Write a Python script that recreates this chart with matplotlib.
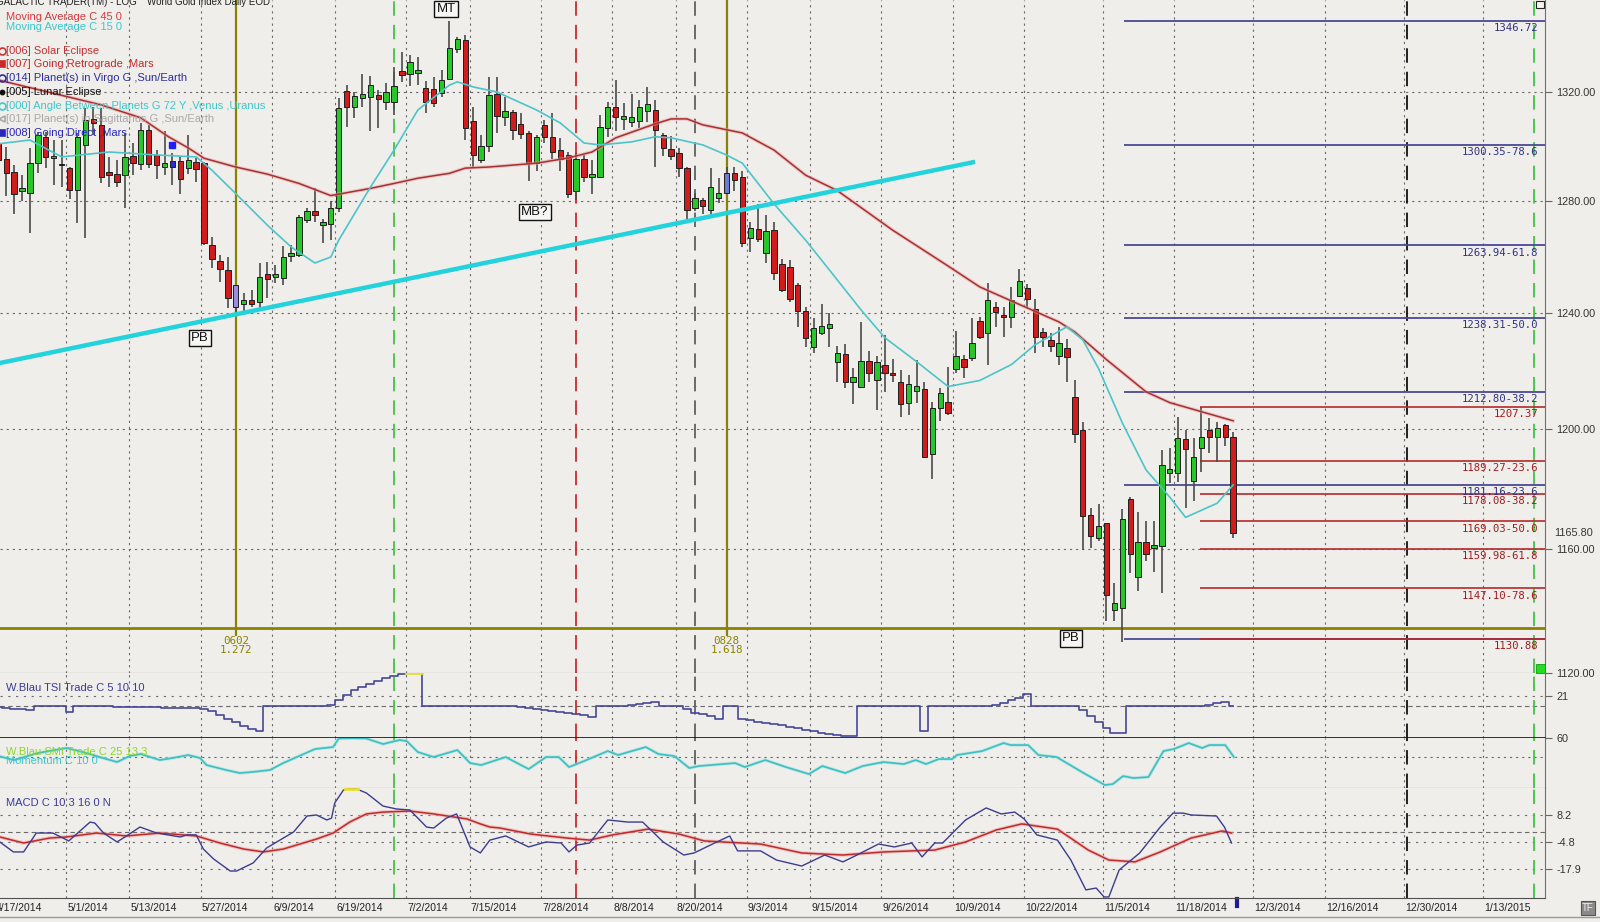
import numpy as np
import matplotlib
matplotlib.use("Agg")
import matplotlib.pyplot as plt
from matplotlib.transforms import blended_transform_factory
from matplotlib.ticker import NullLocator
from matplotlib.patches import Rectangle

# ---------------- data ----------------
date_labels = ["4/17/2014", "5/1/2014", "5/13/2014", "5/27/2014", "6/9/2014", "6/19/2014",
               "7/2/2014", "7/15/2014", "7/28/2014", "8/8/2014", "8/20/2014", "9/3/2014",
               "9/15/2014", "9/26/2014", "10/9/2014", "10/22/2014", "11/5/2014", "11/18/2014",
               "12/3/2014", "12/16/2014", "12/30/2014", "1/13/2015"]
date_days = [0, 9, 17, 26, 35, 43, 52, 60, 69, 78, 86, 95, 103, 112, 121, 130, 140, 149,
             159, 168, 178, 188]

opens = [1301.0, 1295.2, 1290.4, 1283.4, 1283.0, 1293.7, 1303.4, 1295.5, 1293.5, 1291.9,
         1284.1, 1300.4, 1310.0, 1307.8, 1290.4, 1289.7, 1289.3, 1296.3, 1293.4, 1305.9,
         1296.7, 1292.3, 1292.3, 1294.5, 1291.9, 1294.1, 1293.7, 1264.1, 1258.4, 1255.2,
         1242.1, 1243.1, 1244.6, 1243.9, 1253.8, 1252.7, 1252.4, 1260.2, 1260.5, 1272.9,
         1276.5, 1271.1, 1271.5, 1277.5, 1320.4, 1314.5, 1317.8, 1318.2, 1318.9, 1316.3,
         1316.3, 1327.9, 1326.8, 1327.2, 1321.5, 1321.1, 1319.6, 1324.9, 1336.2, 1339.6,
         1309.3, 1294.8, 1300.0, 1319.3, 1310.8, 1312.6, 1308.2, 1304.8, 1293.7, 1307.8,
         1303.4, 1298.5, 1296.7, 1283.4, 1295.2, 1288.6, 1288.6, 1306.7, 1314.5, 1310.0,
         1308.9, 1309.3, 1313.0, 1313.3, 1304.1, 1298.9, 1297.4, 1291.9, 1277.5, 1280.4,
         1276.8, 1281.1, 1283.0, 1290.0, 1288.6, 1266.5, 1269.7, 1261.2, 1269.4, 1257.3,
         1256.3, 1249.9, 1240.7, 1228.3, 1233.1, 1234.8, 1222.8, 1225.9, 1216.2, 1214.5,
         1223.4, 1216.9, 1222.1, 1219.3, 1215.9, 1209.0, 1213.1, 1213.8, 1191.6, 1207.2,
         1209.3, 1220.7, 1224.1, 1224.5, 1237.2, 1233.1, 1242.1, 1239.3, 1238.6, 1246.0,
         1248.8, 1241.4, 1233.4, 1230.7, 1225.2, 1227.9, 1211.0, 1199.7, 1171.1, 1163.7,
         1168.4, 1140.2, 1140.8, 1176.4, 1150.7, 1162.4, 1160.3, 1161.0, 1185.2, 1185.2,
         1196.6, 1182.5, 1193.6, 1199.7, 1197.3, 1201.4, 1197.3]
highs = [1304.1, 1299.7, 1293.0, 1289.3, 1299.3, 1305.2, 1305.2, 1302.2, 1302.2, 1292.3,
         1304.8, 1314.1, 1314.5, 1314.1, 1296.0, 1294.8, 1304.8, 1301.1, 1308.5, 1307.8,
         1298.5, 1305.6, 1297.4, 1296.0, 1304.1, 1295.6, 1294.1, 1266.9, 1260.5, 1259.8,
         1249.9, 1247.1, 1248.1, 1257.7, 1258.1, 1257.0, 1263.7, 1264.1, 1274.7, 1277.5,
         1284.5, 1273.3, 1280.0, 1317.8, 1322.6, 1320.0, 1326.8, 1326.0, 1320.8, 1323.4,
         1329.4, 1335.1, 1334.0, 1333.2, 1324.1, 1325.7, 1328.3, 1346.8, 1340.7, 1341.5,
         1314.5, 1304.1, 1325.7, 1325.7, 1318.2, 1313.3, 1312.2, 1305.6, 1304.1, 1309.6,
         1312.2, 1303.0, 1297.8, 1297.4, 1296.7, 1294.8, 1311.5, 1316.3, 1324.5, 1315.9,
         1319.3, 1317.0, 1321.9, 1317.0, 1304.8, 1303.7, 1299.3, 1292.3, 1283.0, 1281.1,
         1291.9, 1288.2, 1292.3, 1292.3, 1290.8, 1272.2, 1278.9, 1274.7, 1272.2, 1259.1,
         1258.8, 1250.6, 1242.1, 1238.3, 1243.2, 1240.0, 1228.6, 1229.3, 1221.0, 1236.9,
         1226.9, 1225.2, 1232.4, 1224.1, 1220.3, 1218.6, 1223.8, 1215.9, 1209.3, 1214.1,
         1221.4, 1233.8, 1225.5, 1238.3, 1238.6, 1250.6, 1243.9, 1242.1, 1249.2, 1255.6,
         1250.2, 1244.9, 1234.8, 1233.1, 1235.2, 1231.0, 1216.6, 1202.4, 1173.5, 1174.8,
         1168.4, 1148.8, 1173.1, 1177.1, 1172.1, 1169.1, 1169.1, 1192.9, 1193.6, 1204.1,
         1199.7, 1197.0, 1207.6, 1203.8, 1202.4, 1201.7, 1199.0]
lows = [1289.3, 1281.9, 1275.4, 1280.0, 1268.3, 1290.0, 1291.9, 1285.6, 1284.9, 1280.8,
        1271.9, 1266.5, 1304.1, 1286.3, 1284.9, 1284.9, 1277.5, 1289.3, 1291.1, 1291.9,
        1287.8, 1289.3, 1285.6, 1282.6, 1289.7, 1286.7, 1264.1, 1255.9, 1251.0, 1241.8,
        1239.3, 1240.0, 1242.1, 1241.1, 1245.3, 1250.6, 1249.9, 1258.1, 1259.8, 1271.9,
        1272.2, 1265.0, 1265.8, 1276.1, 1307.0, 1310.4, 1314.5, 1305.6, 1306.7, 1313.3,
        1311.5, 1323.8, 1322.3, 1322.6, 1312.2, 1314.5, 1318.2, 1324.5, 1334.7, 1302.2,
        1292.3, 1293.7, 1297.8, 1304.8, 1307.4, 1302.2, 1302.6, 1287.1, 1290.8, 1301.1,
        1295.2, 1290.8, 1281.1, 1280.4, 1286.7, 1282.6, 1288.2, 1303.4, 1305.6, 1305.9,
        1307.0, 1306.7, 1308.9, 1292.3, 1296.3, 1294.8, 1288.6, 1273.3, 1276.5, 1275.4,
        1275.4, 1279.3, 1282.3, 1283.7, 1263.4, 1261.6, 1265.1, 1257.7, 1251.7, 1247.4,
        1243.9, 1235.2, 1228.3, 1226.2, 1232.4, 1228.3, 1215.9, 1214.1, 1208.6, 1214.5,
        1215.9, 1206.6, 1212.7, 1215.9, 1204.1, 1204.8, 1209.0, 1190.3, 1183.2, 1202.8,
        1204.8, 1219.3, 1217.6, 1223.4, 1231.0, 1222.1, 1235.2, 1231.7, 1234.8, 1245.6,
        1241.8, 1226.2, 1228.3, 1226.6, 1222.1, 1215.9, 1195.3, 1159.7, 1160.3, 1162.7,
        1136.6, 1136.6, 1130.0, 1152.0, 1146.2, 1156.2, 1152.3, 1145.6, 1181.9, 1182.2,
        1173.5, 1175.8, 1185.6, 1191.9, 1188.9, 1194.3, 1163.7]
closes = [1295.0, 1290.0, 1282.6, 1284.5, 1293.7, 1304.1, 1296.0, 1296.5, 1293.0, 1284.1,
          1303.4, 1309.6, 1308.5, 1288.6, 1289.3, 1286.7, 1296.0, 1293.7, 1305.9, 1293.4,
          1293.0, 1293.7, 1294.5, 1287.8, 1294.8, 1291.5, 1264.8, 1259.1, 1255.6, 1245.3,
          1249.9, 1244.6, 1243.1, 1252.7, 1252.0, 1253.8, 1259.8, 1261.2, 1274.0, 1276.5,
          1274.7, 1272.2, 1277.5, 1314.1, 1314.5, 1318.5, 1319.3, 1322.6, 1317.4, 1320.0,
          1322.3, 1326.4, 1331.3, 1328.3, 1316.3, 1315.9, 1324.5, 1336.6, 1340.0, 1306.7,
          1296.7, 1300.0, 1318.9, 1311.1, 1313.0, 1305.9, 1304.5, 1293.7, 1303.4, 1303.4,
          1297.8, 1295.2, 1282.3, 1295.2, 1288.6, 1289.7, 1307.0, 1314.5, 1310.8, 1311.1,
          1310.8, 1314.5, 1315.6, 1305.9, 1299.3, 1296.3, 1291.9, 1276.8, 1281.1, 1278.2,
          1284.9, 1283.0, 1290.0, 1287.4, 1264.8, 1270.1, 1266.2, 1269.0, 1254.2, 1248.1,
          1244.9, 1240.7, 1231.4, 1234.8, 1235.5, 1236.2, 1226.2, 1216.2, 1217.9, 1223.4,
          1219.3, 1222.8, 1219.3, 1218.6, 1208.6, 1215.5, 1214.8, 1190.6, 1207.2, 1212.4,
          1205.5, 1225.2, 1221.4, 1229.7, 1231.7, 1244.6, 1240.4, 1238.6, 1244.6, 1251.3,
          1244.9, 1231.7, 1231.7, 1228.6, 1229.7, 1224.8, 1198.3, 1170.8, 1164.4, 1167.4,
          1145.0, 1142.4, 1169.7, 1158.4, 1162.4, 1158.4, 1161.3, 1187.9, 1186.6, 1197.0,
          1193.3, 1190.6, 1197.3, 1197.3, 1200.3, 1197.3, 1165.1]
special_colors = {22: '#2b2bd8', 30: '#9a8ce0', 92: '#6a7ad0'}

ma45_x = [0, 13, 18, 21.5, 24, 26, 30, 34, 38, 42, 47, 50, 53, 57, 59, 62, 68, 72, 75, 78,
          83, 85, 87, 89, 94, 98, 102, 106, 113, 120, 124, 130, 134, 136, 140, 145, 148, 152, 156]
ma45_v = [1324.5, 1315.2, 1310.4, 1303.4, 1299.3, 1295.5, 1292.3, 1289.7, 1286.3, 1281.9,
          1284.5, 1286.3, 1288.2, 1290.0, 1291.9, 1292.3, 1293.7, 1295.6, 1297.8, 1303.0,
          1308.2, 1310.0, 1310.0, 1307.8, 1304.8, 1298.5, 1289.3, 1283.7, 1269.4, 1256.6,
          1249.2, 1241.8, 1236.9, 1233.4, 1223.8, 1212.7, 1209.0, 1205.9, 1202.8]
ma15_x = [0, 4, 8, 14, 20, 25, 27, 30, 34, 37, 40, 42, 43, 47, 50, 53, 57, 58, 60, 63, 68, 71,
          74, 76, 80, 83, 85, 89, 92, 94, 98, 102, 105, 109, 112, 116, 120, 124, 128, 131, 135,
          137, 139, 142, 145, 148, 150, 154, 156]
ma15_v = [1300.8, 1302.2, 1296.0, 1297.8, 1296.7, 1296.0, 1291.1, 1282.6, 1271.2, 1263.4,
          1257.7, 1259.8, 1265.8, 1284.9, 1298.5, 1313.3, 1322.6, 1323.8, 1321.9, 1320.0,
          1313.3, 1308.5, 1301.1, 1300.4, 1301.5, 1303.4, 1303.0, 1300.4, 1296.7, 1293.7,
          1278.9, 1265.8, 1255.2, 1241.1, 1231.4, 1223.1, 1214.5, 1216.6, 1222.1, 1229.0,
          1235.2, 1230.7, 1220.7, 1202.1, 1186.2, 1177.1, 1170.4, 1175.1, 1181.2]

trend_x = [0.0, 123.4]
trend_v = [1222.5, 1294.2]

fib_blue_levels = [1346.72, 1300.35, 1263.94, 1238.31, 1212.80, 1181.16, 1130.88]
fib_blue_labels = ["1346.72", "1300.35-78.6", "1263.94-61.8", "1238.31-50.0",
                   "1212.80-38.2", "1181.16-23.6", ""]
fib_red_levels = [1207.37, 1189.27, 1178.08, 1169.03, 1159.98, 1147.10, 1130.88]
fib_red_labels = ["1207.37", "1189.27-23.6", "1178.08-38.2", "1169.03-50.0",
                  "1159.98-61.8", "1147.10-78.6", "1130.88"]

olive_level = 1134.3
olive_days = [30, 92]
olive_text = [("0602", "1.272"), ("0828", "1.618")]

event_days = [50, 73, 88, 178, 194]
event_colors = ['#3cc83c', '#cc2a2a', '#606060', '#111111', '#3cc83c']

tsi = [-2, -3, -5, -6, -8, 0, 0, 0, 0, -11, 0, 0, 0, 0, 0, -2, -2, -2, -2, -2, -2,
       -3, -3, -3, -3, -3, -5, -10, -17, -25, -33, -40, -46, -50, 0, 0, 0, 0, 0, 0, 0, 0,
       4, 14, 24, 33, 41, 47, 53, 58, 62, 66, 69, 69, 0, 0, 0, 0, 0, 0, 0, 0, 0, 0, 0, 0,
       -2, -4, -6, -8, -10, -12, -14, -16, -18, -21, 0, 0, 0, 0, 2, 5, 7, 10, 0, 0, 0,
       -6, -13, -16, -19, -25, 0, 0, -25, -28, -31, -34, -36, -39, -42, -45, -48, -51, -54,
       -57, -59, -60, -61, 0, 0, 0, 0, 0, 0, 0, 0, -50, 0, 0, 0, 0, 0, 0, 0, 0,
       4, 8, 13, 18, 25, 0, 0, 0, 0, 0, 0, -8, -20, -32, -45, -55, -55,
       0, 0, 0, 0, 0, 0, 0, 0, 0, 0, 3, 8, 10, 0]

smi_x = [0, 2, 5, 8.6, 10.7, 12.8, 15, 16.6, 18, 20.4, 22, 24, 25.5, 26.3, 28.8, 30.5, 32,
         34.3, 36, 38, 40, 42.3, 43, 44.8, 46.5, 48.6, 50.7, 51.6, 53, 55, 58, 59.6, 61, 64.1,
         67, 69.2, 70.8, 72.1, 73.7, 77, 78.3, 81.8, 83.4, 85.4, 87.3, 88.5, 93.1, 94.3, 96.9,
         99.5, 102.4, 104.1, 107, 109.2, 111.8, 114.4, 115.9, 117.2, 118.8, 120.5, 121.1,
         124.3, 127, 127.9, 130.1, 131.4, 133.7, 136.9, 139.8, 140.8, 142.1, 143.4, 145.3,
         147.2, 148.5, 150.4, 152.1, 153, 155, 156.1]
smi_v = [22.1, 13.7, 28.4, 38.9, 30.5, 20.0, 9.5, 22.1, 26.3, 13.7, 17.9, 24.2, 17.9, 3.2,
         -7.3, -13.6, -11.5, -7.3, 7.4, 22.1, 36.8, 41.0, 59.0, 59.5, 59.0, 47.3, 55.7, 53.6,
         30.5, 20.0, 34.7, 7.4, 3.2, 20.0, -5.2, 20.0, 20.0, -1.0, 9.5, 32.6, 24.2, 41.0,
         26.3, 22.1, -3.1, 1.1, 7.4, -1.0, 13.7, -1.0, -15.7, 1.1, -13.6, 1.1, 9.5, 5.3,
         13.7, 5.3, 15.8, 15.8, 24.2, 32.6, 49.4, 45.2, 45.2, 24.2, 20.0, -11.5, -38.8,
         -36.7, -19.9, -24.1, -22.0, 32.6, 36.8, 49.4, 38.9, 45.2, 45.2, 20.0]

macd_x = [0.2, 1.9, 3.2, 4.8, 6.9, 8.9, 11.6, 12.2, 13.3, 15, 16.2, 17.9, 20, 23, 23.8, 25,
          25.9, 27.2, 29.3, 30.1, 32.2, 33.9, 37.3, 39, 40.2, 41.5, 42.1, 42.5, 43.6, 44.4,
          45.1, 46.5, 48.6, 50.3, 52, 54.1, 55, 56.6, 57.9, 59.6, 60.9, 62.1, 64.1, 67, 69.2,
          71.1, 72.1, 73.1, 74.7, 77, 79.5, 81.4, 84, 86.6, 87.9, 90.5, 92.4, 93.4, 96.3,
          98.3, 101.5, 104.4, 106.7, 108, 111.2, 113.2, 115.4, 116.7, 118.3, 119.3, 122.2,
          124.8, 126.7, 128.4, 129.6, 131.2, 133.8, 135.5, 137.4, 138.7, 139.7, 140.3, 141.6,
          144.2, 146.8, 148.4, 149.7, 150.7, 153.9, 154.9, 155.8]
macd_v = [-4.8, -9.6, -9.6, -0.5, -0.5, -4.3, 4.8, 4.3, -0.5, -4.8, -1.9, 2.4, -0.5, -2.4,
          -1.4, -1.4, -8.2, -13.0, -18.8, -18.8, -14.9, -7.7, 0.0, 7.7, 8.2, 5.8, 6.7, 14.0,
          20.2, 21.0, 21.0, 18.8, 12.5, 11.1, 10.6, 2.4, 1.9, 6.7, 8.7, -7.2, -10.1, -3.9,
          -1.9, -7.2, -4.8, -5.3, -9.6, -6.3, -5.3, 5.8, 4.8, 4.8, -4.8, -11.1, -10.1, -5.3,
          -1.9, -9.1, -9.1, -13.5, -16.4, -11.1, -14.4, -12.0, -5.8, -7.2, -5.3, -12.0, -5.3,
          -5.3, 5.8, 11.6, 8.7, 9.6, 6.3, -1.4, -3.9, -13.5, -27.9, -27.0, -31.3, -31.3,
          -18.3, -10.1, 2.4, 9.1, 9.1, 8.2, 7.7, 2.4, -5.3]
sig_x = [0.2, 3.2, 6.5, 8.6, 12.4, 16.2, 20.4, 25, 28, 31, 33.5, 36, 40.2, 42.3, 44.4, 46.5,
         48.6, 52, 55, 59.2, 60.9, 62.1, 63.4, 67.3, 71.8, 74.7, 77.6, 82.1, 86, 89.2, 96.3,
         101.5, 106.7, 111.9, 118.3, 122.2, 126.1, 129.3, 133.8, 137.7, 140.3, 143.6, 146.8,
         150.7, 154.6, 155.8]
sig_v = [-2.4, -5.3, -2.9, -2.4, -0.5, -1.9, -0.5, -1.9, -5.3, -8.2, -9.6, -8.2, -3.4, -0.5,
         4.8, 8.7, 9.6, 10.1, 8.7, 6.3, 3.9, 2.4, 1.9, -1.0, -2.9, -3.9, -1.4, 1.4, -1.0, -4.3,
         -5.8, -10.1, -11.1, -9.6, -8.7, -4.8, 1.0, 3.9, 1.4, -8.7, -13.5, -14.4, -9.6, -2.9,
         0.5, -0.5]

price_ticks = [1120, 1160, 1200, 1240, 1280, 1320]
macd_ticks = [8.2, -4.8, -17.9]

# ---------------- figure ----------------
W, H = 1600, 922
BG = '#efeeeb'
plt.rcParams['font.family'] = ['Liberation Sans', 'DejaVu Sans']
fig = plt.figure(figsize=(16, 9.22), dpi=100, facecolor=BG)

RIGHT = 1545


def px_axes(top, bottom):
    a = fig.add_axes([0, 1 - bottom / H, RIGHT / W, (bottom - top) / H])
    a.set_facecolor(BG)
    a.set_xlim(0.215, 195.4)
    for s in ['left', 'top']:
        a.spines[s].set_visible(False)
    a.spines['right'].set_color('#707070')
    a.spines['bottom'].set_color('#505050')
    a.set_xticks([])
    a.yaxis.tick_right()
    a.tick_params(axis='y', which='both', length=5, color='#666666', labelsize=7.8,
                  labelcolor='#333333', pad=3, direction='out')
    return a


ax = px_axes(0, 673)
ax_tsi = px_axes(673, 738)
ax_smi = px_axes(738, 788)
ax_macd = px_axes(788, 898)
ax_tsi.spines['bottom'].set_color('#111111')
ax_tsi.spines['bottom'].set_linewidth(1.2)

grid_pos = [d - 0.442 for d in date_days]
grid_ls = (0, (2, 3.5))
for a in (ax, ax_tsi, ax_smi, ax_macd):
    for p in grid_pos:
        a.axvline(p, color='#6a6a6a', lw=0.8, ls=grid_ls, zorder=1)
    for d, c in zip(event_days, event_colors):
        a.axvline(d, color=c, lw=1.3, ls=(0, (8, 5)), zorder=2)

# ---------- main price panel ----------
ax.set_yscale('log')
ax.set_ylim(1120, 1354.8)
ax.yaxis.set_minor_locator(NullLocator())
ax.set_yticks(price_ticks)
ax.set_yticklabels([f"{v:.2f}" for v in price_ticks])
for lev in price_ticks[1:]:
    ax.axhline(lev, color='#6a6a6a', lw=0.8, ls=grid_ls, zorder=1)

# fibonacci lines
ax.hlines(fib_blue_levels, 142.2, 195.4, color='#4a4a96', lw=1.3, zorder=2)
ax.hlines(fib_red_levels, 151.8, 195.4, color='#b52a2a', lw=1.2, zorder=2)
for lev, lab in zip(fib_blue_levels, fib_blue_labels):
    if lab:
        ax.annotate(lab, xy=(194.5, lev), xytext=(0, -1.5), textcoords='offset points',
                    ha='right', va='top', fontsize=7.7, family='DejaVu Sans Mono',
                    color='#30308a', zorder=7)
for lev, lab in zip(fib_red_levels, fib_red_labels):
    ax.annotate(lab, xy=(194.5, lev), xytext=(0, -1.5), textcoords='offset points',
                ha='right', va='top', fontsize=7.7, family='DejaVu Sans Mono',
                color='#a51c1c', zorder=7)

# olive time/price lines
ax.axhline(olive_level, color='#8a8200', lw=2.0, zorder=3)
for d, (t1, t2) in zip(olive_days, olive_text):
    ax.vlines(d, 1131.8, 1354.8, color='#8a8200', lw=1.6, zorder=3)
    ax.text(d, 1130.2, t1, ha='center', va='center', fontsize=7.8,
            family='DejaVu Sans Mono', color='#8a8200')
    ax.text(d, 1127.2, t2, ha='center', va='center', fontsize=7.8,
            family='DejaVu Sans Mono', color='#8a8200')

# candles
idx = np.arange(len(opens))
o = np.array(opens)
c = np.array(closes)
cols = []
for i in idx:
    if i in special_colors:
        cols.append(special_colors[i])
    elif c[i] >= o[i]:
        cols.append('#27c727')
    else:
        cols.append('#d01c1c')
ax.vlines(idx, lows, highs, color='#4a4a4a', lw=1.2, zorder=4)
bottoms = np.minimum(o, c)
heights = np.maximum(np.abs(c - o), 0.35)
ax.bar(idx, heights, bottom=bottoms, width=0.68, color=cols, edgecolor='#1e1e1e',
       linewidth=0.7, zorder=5)

# moving averages and trend line
ax.plot(ma45_x, ma45_v, color='#e8a0a0', lw=2.6, alpha=0.5, zorder=5.5)
ax.plot(ma45_x, ma45_v, color='#a83030', lw=1.1, zorder=6)
ax.plot(ma15_x, ma15_v, color='#4cc4c8', lw=1.2, zorder=6)
ax.plot(trend_x, trend_v, color='#22d3dc', lw=3.2, solid_capstyle='butt', zorder=6)

# astro marker
ax.plot(22, 1300.3, 's', color='#1e1eff', ms=4.5, zorder=7)

# boxed annotations
box = dict(boxstyle='square,pad=0.18', fc='#f6f6f4', ec='#111111', lw=1.0)
for x_, y_, t in [(25.5, 1231.3, 'PB'), (56.6, 1351.4, 'MT'), (67.8, 1276.0, 'MB?'),
                  (135.5, 1131.1, 'PB')]:
    ax.text(x_, y_, t, ha='center', va='center', fontsize=9.5, color='#111111',
            bbox=box, zorder=8)

# current price label
trans = blended_transform_factory(ax.transAxes, ax.transData)
ax.text(1.0058, closes[-1], "1165.80", transform=trans, ha='left', va='center',
        fontsize=7.8, color='#333333', clip_on=False)

# ---------- TSI panel ----------
ax_tsi.set_ylim(-65, 69)
ax_tsi.set_yticks([21])
ax_tsi.set_yticklabels(["21"])
ax_tsi.axhline(21, color='#6a6a6a', lw=0.8, ls=(0, (2, 5)), zorder=1)
ax_tsi.axhline(0, color='#6a6a6a', lw=0.8, ls=(0, (4, 3)), zorder=1)
ax_tsi.plot(np.arange(len(tsi)), tsi, drawstyle='steps-mid', color='#46469a', lw=1.2,
            zorder=4)
ax_tsi.plot([51.5, 53.5], [68, 68], color='#e8e030', lw=2.0, zorder=5)

# ---------- SMI / Momentum panel ----------
ax_smi.set_ylim(-45, 60)
ax_smi.set_yticks([60])
ax_smi.set_yticklabels(["60"])
ax_smi.axhline(20, color='#6a6a6a', lw=0.8, ls=(0, (2, 3.5)), zorder=1)
ax_smi.plot(smi_x, smi_v, color='#9ee0e0', lw=2.4, alpha=0.6, zorder=3)
ax_smi.plot(smi_x, smi_v, color='#3cc0c0', lw=1.2, zorder=4)

# ---------- MACD panel ----------
ax_macd.set_ylim(-31.8, 21.2)
ax_macd.set_yticks(macd_ticks)
ax_macd.set_yticklabels(["8.2", "-4.8", "-17.9"])
for lev in macd_ticks:
    ax_macd.axhline(lev, color='#6a6a6a', lw=0.8, ls=(0, (2, 5)), zorder=1)
ax_macd.axhline(0, color='#6a6a6a', lw=0.8, ls=(0, (4, 3)), zorder=1)
ax_macd.plot(sig_x, sig_v, color='#f0a8a8', lw=2.6, alpha=0.6, zorder=3)
ax_macd.plot(sig_x, sig_v, color='#c02a2a', lw=1.1, zorder=4)
ax_macd.plot(macd_x, macd_v, color='#3c3c90', lw=1.0, zorder=5)
ax_macd.plot([43.8, 45.4], [20.6, 20.6], color='#e8e030', lw=2.0, zorder=6)

# date labels
tr = blended_transform_factory(ax_macd.transData, ax_macd.transAxes)
for p, lab in zip(grid_pos, date_labels):
    ax_macd.text(p + 0.15, -0.095, lab, transform=tr, ha='left', va='center',
                 fontsize=7.5, color='#222222', clip_on=False)
ax_macd.plot([156.5, 156.5], [-0.01, -0.07], transform=tr, color='#1c1c9c', lw=3,
             clip_on=False)

# ---------- texts on figure ----------
def ftext(x, y, s, **kw):
    fig.text(x / W, 1 - y / H, s, **kw)


ftext(-4, 5, "GALACTIC TRADER(TM) - LOG", fontsize=7, color='#222222', va='baseline')
ftext(147, 5, "World Gold Index Daily EOD", fontsize=7, color='#222222', va='baseline')

legend = [(17, "Moving Average C 45 0", '#d83c3c', None),
          (27, "Moving Average C 15 0", '#3cc8d0', None),
          (51, "[006] Solar Eclipse", '#c83232', 'o'),
          (64, "[007] Going Retrograde ,Mars", '#c82828', 's'),
          (78, "[014] Planet(s) in Virgo G ,Sun/Earth", '#2c2ca0', 'o'),
          (92, "[005] Lunar Eclipse", '#111111', '.'),
          (106, "[000] Angle Between Planets G 72 Y ,Venus ,Uranus", '#3cc8cc', 'o'),
          (119, "[017] Planet(s) in Sagittarius G ,Sun/Earth", '#a8a8a8', '<'),
          (133, "[008] Going Direct ,Mars", '#2828c0', 's')]
for y_, s, col, mk in legend:
    ftext(6.5, y_, s, fontsize=8, color=col, va='center')
    if mk is not None:
        filled = mk in ('s', '.')
        fig.lines.append(plt.Line2D([1.5 / W], [1 - y_ / H], marker=mk, ms=5 if mk != '.' else 6,
                                    mfc=col if filled else 'none', mec=col, mew=1.2,
                                    transform=fig.transFigure, figure=fig))

ftext(6.5, 688, "W.Blau TSI Trade C 5 10 10", fontsize=8, color='#3a3aa0', va='center')
ftext(6.5, 761, "Momentum C 10 0", fontsize=8, color='#3cc8cc', va='center')
ftext(6.5, 752, "W.Blau SMI Trade C 25 13 3", fontsize=8, color='#8cd62c', va='center')
ftext(6.5, 803, "MACD C 10 3 16 0 N", fontsize=8, color='#3a3aa0', va='center')

# small widgets
fig.patches.append(Rectangle((1536 / W, 1 - 673 / H), 9 / W, 9 / H, transform=fig.transFigure,
                             fc='#22dd22', ec='#119911', lw=0.6, figure=fig))
fig.patches.append(Rectangle((1536 / W, 1 - 8 / H), 8 / W, 7 / H, transform=fig.transFigure,
                             fc='#f4f4f4', ec='#222222', lw=0.8, figure=fig))
fig.patches.append(Rectangle((1581 / W, 1 - 915 / H), 14 / W, 14 / H, transform=fig.transFigure,
                             fc='#8a8a8a', ec='#555555', lw=0.8, figure=fig))
ftext(1588, 908, "TF", fontsize=7, color='#f0f0f0', ha='center', va='center')
fig.lines.append(plt.Line2D([0, 1], [1 - 917 / H, 1 - 917 / H], color='#9a9a9a', lw=1.0,
                            transform=fig.transFigure, figure=fig))

fig.savefig("out.png", dpi=100, facecolor=BG)
